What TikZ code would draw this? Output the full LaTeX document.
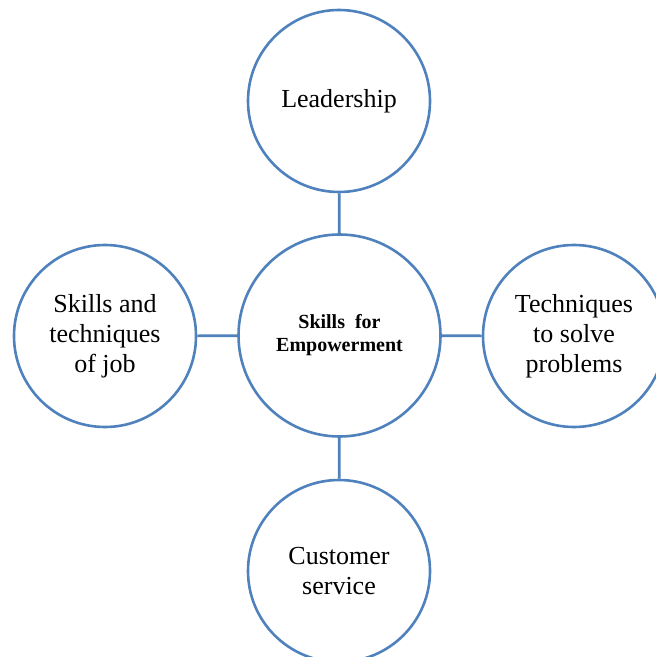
\documentclass[tikz,border=0pt]{standalone}
\usepackage{fontspec}
\setmainfont{Liberation Serif}
\usepackage{tikz}
\usetikzlibrary{positioning}
\definecolor{ringblue}{HTML}{4F81BD}

\tikzset{
    ring/.style={circle, draw=ringblue, line width=1.3pt, minimum size=91pt, inner sep=0pt,
        align=center, font=\fontsize{13}{15}\selectfont},
    hub/.style={ring, minimum size=101pt, font=\fontsize{10}{11.5}\selectfont\bfseries},
    link/.style={draw=ringblue, line width=1.3pt}
}

\begin{document}
\begin{tikzpicture}[x=0.5pt, y=-0.5pt]
    \useasboundingbox (0,0) rectangle (655,657);
    \node[hub] (hub) at (339.5,335.5) {Skills\ \ for\\Empowerment};
    \node[ring] (lead) at (339,101) {Leadership};
    \node[ring] (job) at (105,336) {Skills and\\techniques\\of job};
    \node[ring] (solve) at (574,336) {Techniques\\to solve\\problems};
    \node[ring] (cust) at (339,571) {Customer\\service};
    \foreach \n in {lead, job, solve, cust}
        \draw[link] (hub) -- (\n);
\end{tikzpicture}
\end{document}
